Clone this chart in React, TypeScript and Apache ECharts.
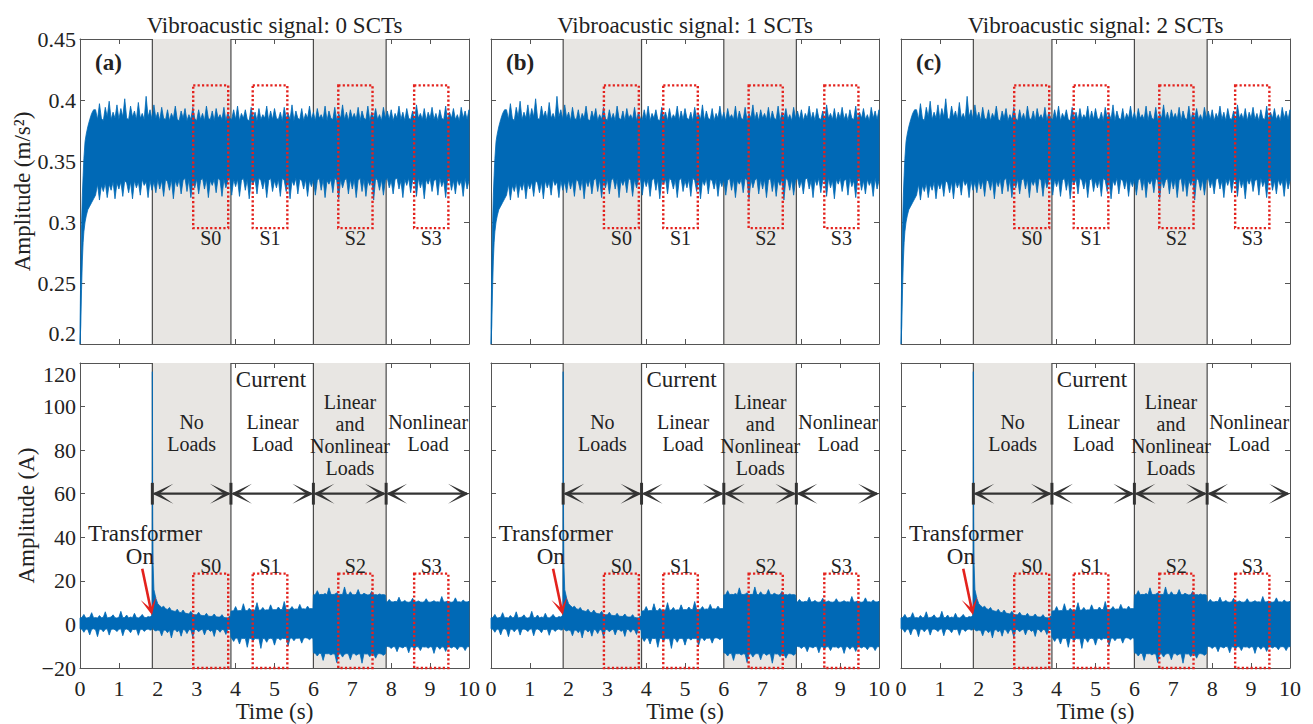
import React, { useEffect, useRef } from 'react';
import * as echarts from 'echarts';

// ---------------- data ----------------
const panelTitles = ['Vibroacustic signal: 0 SCTs', 'Vibroacustic signal: 1 SCTs', 'Vibroacustic signal: 2 SCTs'];
const panelLetters = ['(a)', '(b)', '(c)'];

// vibroacoustic amplitude envelope (m/s^2)
const vibTime = [0, 0.02, 0.04, 0.06, 0.08, 0.1, 0.13, 0.16, 0.2, 0.25, 0.3, 0.35,
  0.4, 0.45, 0.5, 0.55, 0.6, 0.65, 0.7, 0.75, 0.8, 0.85, 0.9, 0.95,
  1.0, 1.05, 1.1, 1.15, 1.2, 1.25, 1.3, 1.35, 1.4, 1.45, 1.5, 1.55, 1.6, 1.65, 1.7, 1.75, 1.8, 1.85, 1.9, 1.95,
  2.0, 2.05, 2.1, 2.15, 2.2, 2.25, 2.3, 2.35, 2.4, 2.45, 2.5, 2.55, 2.6, 2.65, 2.7, 2.75, 2.8, 2.85, 2.9, 2.95,
  3.0, 3.05, 3.1, 3.15, 3.2, 3.25, 3.3, 3.35, 3.4, 3.45, 3.5, 3.55, 3.6, 3.65, 3.7, 3.75, 3.8, 3.85, 3.9, 3.95,
  4.0, 4.05, 4.1, 4.15, 4.2, 4.25, 4.3, 4.35, 4.4, 4.45, 4.5, 4.55, 4.6, 4.65, 4.7, 4.75, 4.8, 4.85, 4.9, 4.95,
  5.0, 5.05, 5.1, 5.15, 5.2, 5.25, 5.3, 5.35, 5.4, 5.45, 5.5, 5.55, 5.6, 5.65, 5.7, 5.75, 5.8, 5.85, 5.9, 5.95,
  6.0, 6.05, 6.1, 6.15, 6.2, 6.25, 6.3, 6.35, 6.4, 6.45, 6.5, 6.55, 6.6, 6.65, 6.7, 6.75, 6.8, 6.85, 6.9, 6.95,
  7.0, 7.05, 7.1, 7.15, 7.2, 7.25, 7.3, 7.35, 7.4, 7.45, 7.5, 7.55, 7.6, 7.65, 7.7, 7.75, 7.8, 7.85, 7.9, 7.95,
  8.0, 8.05, 8.1, 8.15, 8.2, 8.25, 8.3, 8.35, 8.4, 8.45, 8.5, 8.55, 8.6, 8.65, 8.7, 8.75, 8.8, 8.85, 8.9, 8.95,
  9.0, 9.05, 9.1, 9.15, 9.2, 9.25, 9.3, 9.35, 9.4, 9.45, 9.5, 9.55, 9.6, 9.65, 9.7, 9.75, 9.8, 9.85, 9.9, 9.95,
  10.0];
const vibUpper = [0.212, 0.262, 0.298, 0.322, 0.338, 0.352, 0.366, 0.372, 0.378, 0.384, 0.389, 0.392,
  0.392, 0.384, 0.397, 0.385, 0.383, 0.394, 0.386, 0.399, 0.384, 0.390, 0.385, 0.396,
  0.384, 0.393, 0.386, 0.401, 0.385, 0.384, 0.395, 0.386, 0.391, 0.384, 0.398, 0.385, 0.389, 0.384, 0.403, 0.386, 0.392, 0.384, 0.396, 0.385,
  0.390, 0.383, 0.394, 0.385, 0.384, 0.392, 0.383, 0.389, 0.385, 0.395, 0.384, 0.383, 0.391, 0.385, 0.393, 0.383, 0.388, 0.384, 0.394, 0.385,
  0.383, 0.392, 0.384, 0.389, 0.383, 0.395, 0.385, 0.384, 0.391, 0.383, 0.393, 0.385, 0.388, 0.384, 0.394, 0.383, 0.390, 0.385, 0.384, 0.392,
  0.384, 0.395, 0.383, 0.389, 0.385, 0.392, 0.384, 0.383, 0.394, 0.385, 0.390, 0.383, 0.393, 0.384, 0.388, 0.385, 0.395, 0.383, 0.391, 0.384,
  0.393, 0.385, 0.384, 0.390, 0.383, 0.394, 0.385, 0.389, 0.384, 0.396, 0.383, 0.391, 0.385, 0.384, 0.393, 0.383, 0.389, 0.385, 0.395, 0.384,
  0.390, 0.383, 0.393, 0.385, 0.388, 0.384, 0.395, 0.383, 0.391, 0.385, 0.384, 0.394, 0.383, 0.389, 0.385, 0.396, 0.384, 0.390, 0.383, 0.392,
  0.385, 0.389, 0.384, 0.394, 0.383, 0.391, 0.385, 0.384, 0.395, 0.383, 0.390, 0.385, 0.393, 0.384, 0.388, 0.383, 0.394, 0.385, 0.391, 0.384,
  0.392, 0.383, 0.389, 0.385, 0.395, 0.384, 0.390, 0.383, 0.393, 0.385, 0.384, 0.391, 0.383, 0.396, 0.385, 0.389, 0.384, 0.393, 0.383, 0.390,
  0.385, 0.394, 0.384, 0.389, 0.383, 0.392, 0.385, 0.384, 0.395, 0.383, 0.390, 0.385, 0.393, 0.384, 0.388, 0.383, 0.394, 0.385, 0.391, 0.384,
  0.392];
const vibLower = [0.200, 0.215, 0.245, 0.268, 0.283, 0.292, 0.300, 0.305, 0.310, 0.313, 0.316, 0.319,
  0.322, 0.331, 0.318, 0.330, 0.325, 0.332, 0.320, 0.331, 0.326, 0.333, 0.319, 0.332,
  0.327, 0.333, 0.321, 0.334, 0.332, 0.324, 0.333, 0.319, 0.334, 0.328, 0.333, 0.322, 0.335, 0.330, 0.333, 0.320, 0.334, 0.326, 0.333, 0.324,
  0.335, 0.327, 0.334, 0.321, 0.335, 0.333, 0.326, 0.335, 0.319, 0.334, 0.329, 0.335, 0.323, 0.334, 0.336, 0.325, 0.335, 0.320, 0.334, 0.328,
  0.335, 0.323, 0.334, 0.336, 0.327, 0.335, 0.320, 0.334, 0.330, 0.335, 0.324, 0.336, 0.334, 0.321, 0.335, 0.328, 0.334, 0.336, 0.322, 0.335,
  0.329, 0.335, 0.321, 0.334, 0.336, 0.326, 0.335, 0.319, 0.334, 0.331, 0.335, 0.323, 0.336, 0.334, 0.327, 0.335, 0.320, 0.334, 0.336, 0.325,
  0.334, 0.328, 0.335, 0.321, 0.336, 0.334, 0.325, 0.335, 0.319, 0.334, 0.330, 0.336, 0.323, 0.335, 0.334, 0.327, 0.335, 0.321, 0.334, 0.329,
  0.335, 0.322, 0.334, 0.336, 0.326, 0.335, 0.320, 0.334, 0.331, 0.335, 0.324, 0.336, 0.334, 0.319, 0.335, 0.328, 0.334, 0.336, 0.323, 0.335,
  0.327, 0.335, 0.320, 0.334, 0.336, 0.325, 0.335, 0.321, 0.334, 0.330, 0.335, 0.318, 0.336, 0.334, 0.326, 0.335, 0.322, 0.334, 0.336, 0.328,
  0.334, 0.323, 0.335, 0.336, 0.327, 0.334, 0.320, 0.335, 0.330, 0.336, 0.324, 0.334, 0.335, 0.321, 0.336, 0.328, 0.334, 0.319, 0.335, 0.331,
  0.336, 0.325, 0.334, 0.335, 0.322, 0.336, 0.329, 0.334, 0.320, 0.335, 0.336, 0.326, 0.334, 0.323, 0.335, 0.330, 0.334, 0.321, 0.336, 0.327,
  0.334];

// current amplitude envelope (A)
const curTime = [
  0, 0.05, 0.1, 0.15, 0.2, 0.25, 0.3, 0.35, 0.4, 0.45, 0.5, 0.55, 0.6, 0.65, 0.7, 0.75, 0.8, 0.85, 0.9, 0.95,
  1.0, 1.05, 1.1, 1.15, 1.2, 1.25, 1.3, 1.35, 1.4, 1.45, 1.5, 1.55, 1.6, 1.65, 1.7, 1.75, 1.8,
  1.84, 1.855, 1.86, 1.865, 1.87, 1.88, 1.9, 1.95, 2.0,
  2.05, 2.1, 2.15, 2.2, 2.25, 2.3, 2.35, 2.4, 2.45, 2.5, 2.55, 2.6, 2.65, 2.7, 2.75, 2.8, 2.85, 2.9, 2.95,
  3.0, 3.05, 3.1, 3.15, 3.2, 3.25, 3.3, 3.35, 3.4, 3.45, 3.5, 3.55, 3.6, 3.65, 3.7, 3.75, 3.8, 3.85,
  3.87,
  3.88, 3.9, 3.95, 4.0, 4.05, 4.1, 4.15, 4.2, 4.25, 4.3, 4.35,
  4.4, 4.45, 4.5, 4.55, 4.6, 4.65, 4.7, 4.75, 4.8, 4.85,
  4.9, 4.95, 5.0, 5.05, 5.1, 5.15, 5.2, 5.25, 5.3, 5.35,
  5.4, 5.45, 5.5, 5.55, 5.6, 5.65, 5.7, 5.75, 5.8, 5.85,
  5.9, 5.95, 5.99,
  6.0, 6.05, 6.1, 6.15, 6.2, 6.25, 6.3, 6.35, 6.4, 6.45,
  6.5, 6.55, 6.6, 6.65, 6.7, 6.75, 6.8, 6.85, 6.9, 6.95,
  7.0, 7.05, 7.1, 7.15, 7.2, 7.25, 7.3, 7.35, 7.4, 7.45,
  7.5, 7.55, 7.6, 7.65, 7.7, 7.75, 7.8, 7.85,
  7.87,
  7.9, 7.95, 8.0, 8.05, 8.1, 8.15, 8.2, 8.25, 8.3, 8.35,
  8.4, 8.45, 8.5, 8.55, 8.6, 8.65, 8.7, 8.75, 8.8, 8.85,
  8.9, 8.95, 9.0, 9.05, 9.1, 9.15, 9.2, 9.25, 9.3, 9.35,
  9.4, 9.45, 9.5, 9.55, 9.6, 9.65, 9.7, 9.75, 9.8, 9.85,
  9.9, 9.95, 10.0];
const curUpper = [
  3.0, 3.2, 4.6, 2.9, 3.1, 3.3, 5.4, 3.0, 3.2, 2.9, 4.1, 3.1, 3.3, 5.8, 3.0, 3.2, 3.4, 4.4, 3.1, 2.9,
  3.3, 6.0, 3.1, 3.2, 4.3, 3.0, 3.4, 3.1, 5.1, 3.2, 3.0, 3.5, 4.6, 3.3, 3.1, 3.6, 3.4,
  4.0, 6.0, 116, 80, 48, 27, 16, 12, 9.5,
  8.6, 7.8, 8.4, 7.2, 6.9, 7.8, 6.4, 6.2, 5.9, 7.0, 5.6, 5.4, 6.6, 5.2, 5.0, 4.8, 6.0, 4.6, 4.5,
  4.4, 5.6, 4.2, 4.1, 4.0, 5.1, 3.8, 3.7, 3.7, 4.8, 3.5, 3.4, 3.4, 4.5, 3.2, 3.1, 3.0, 3.9,
  2.8,
  6.0, 6.2, 6.3, 8.2, 6.2, 6.4, 6.3, 9.5, 6.4, 6.3, 7.4,
  6.5, 6.4, 6.6, 10.0, 6.5, 6.6, 7.8, 6.5, 6.7, 6.6,
  9.0, 6.7, 6.8, 6.7, 8.0, 6.8, 6.9, 10.5, 6.8, 6.9,
  7.0, 8.2, 6.9, 7.1, 7.0, 9.2, 7.1, 7.2, 7.0, 8.4,
  7.2, 7.3, 7.2,
  13.5, 13.7, 15.5, 13.6, 13.8, 13.7, 14.2, 13.6, 16.8, 13.8,
  13.7, 13.9, 14.5, 13.6, 13.8, 13.7, 17.2, 13.8, 13.6, 15.0,
  13.7, 13.6, 13.8, 16.0, 13.7, 13.6, 14.3, 13.8, 13.5, 13.7,
  15.2, 13.6, 13.7, 13.5, 14.0, 13.6, 13.7, 13.5,
  10.2,
  10.3, 11.5, 10.4, 10.3, 10.6, 10.4, 12.5, 10.3, 10.4, 11.0,
  10.3, 10.2, 10.4, 12.0, 10.3, 10.4, 10.8, 10.3, 10.2, 10.4,
  11.8, 10.3, 10.2, 10.4, 10.9, 10.3, 10.4, 10.2, 12.8, 10.3,
  10.4, 10.7, 10.3, 10.2, 10.4, 12.2, 10.3, 10.4, 10.2, 11.2,
  10.4, 10.3, 10.6];
const curLower = [
  -2.0, -2.2, -3.6, -2.1, -2.3, -4.8, -2.2, -2.0, -2.4, -5.6, -2.1, -2.3, -3.4, -2.2, -2.0, -4.9, -2.3, -2.1, -2.4, -3.3,
  -2.2, -2.0, -5.2, -2.3, -2.1, -2.5, -3.8, -2.2, -2.4, -2.1, -5.0, -2.3, -2.2, -3.2, -2.4, -2.1, -2.6,
  -2.5, -2.0, -1.0, 0.0, -1.5, -2.0, -2.5, -3.0, -2.6,
  -2.8, -5.2, -2.6, -2.7, -3.8, -2.5, -6.2, -2.6, -2.4, -3.5, -2.5, -5.4, -2.3, -2.6, -4.2, -2.4, -2.5, -5.8, -2.3,
  -2.4, -3.4, -2.5, -2.2, -4.8, -2.4, -2.3, -3.2, -2.5, -5.5, -2.2, -2.4, -3.6, -2.3, -2.5, -4.6, -2.2, -2.4,
  -2.5,
  -6.0, -6.3, -7.8, -6.2, -6.4, -9.0, -6.3, -6.5, -6.4, -10.5, -6.3,
  -6.5, -7.6, -6.4, -6.6, -6.5, -11.0, -6.4, -6.6, -8.2, -6.5,
  -6.4, -6.6, -9.5, -6.5, -6.3, -7.2, -6.4, -6.5, -6.3, -9.8,
  -6.4, -6.2, -7.5, -6.3, -6.4, -6.2, -8.6, -6.3, -6.1, -6.3,
  -7.0, -6.2, -6.4,
  -13.0, -13.3, -14.5, -13.2, -13.4, -16.5, -13.3, -13.5, -13.4, -14.0,
  -13.5, -13.6, -17.5, -13.4, -13.5, -15.0, -13.6, -13.4, -13.5, -16.2,
  -13.5, -13.4, -14.2, -13.6, -13.5, -17.8, -13.4, -13.6, -13.5, -14.8,
  -13.4, -13.6, -15.5, -13.5, -13.4, -13.6, -14.2, -13.5,
  -10.0,
  -10.1, -10.3, -11.0, -10.2, -10.3, -12.5, -10.2, -10.4, -10.8, -10.1,
  -10.3, -13.0, -10.2, -10.4, -11.2, -10.2, -10.3, -12.0, -10.2, -10.4,
  -10.3, -10.9, -10.2, -10.4, -13.3, -10.3, -10.2, -11.4, -10.3, -10.4,
  -12.4, -10.2, -10.3, -10.8, -10.2, -10.4, -11.6, -10.3, -10.2, -10.4,
  -12.0, -10.3, -10.2];

// operating stages (s)
const stageBounds = [1.86, 3.88, 6.0, 7.87, 10];
const shadedStart = [1.86, 6.0];
const shadedEnd = [3.88, 7.87];
const stageLabels = [['No', 'Loads'], ['Linear', 'Load'], ['Linear', 'and', 'Nonlinear', 'Loads'], ['Nonlinear', 'Load']];

// analysis windows
const windowNames = ['S0', 'S1', 'S2', 'S3'];
const windowStart = [2.91, 4.44, 6.64, 8.59];
const windowEnd = [3.81, 5.33, 7.52, 9.47];
const vibWindowRange = [0.295, 0.412];
const curWindowRange = [-20, 23.3];

// ---------------- layout / style ----------------
const FONT = '"Liberation Serif", "Times New Roman", serif';
const BLUE = '#0069b6';
const SHADE = '#e8e6e3';
const RED = '#e3221d';
const DARK = '#333333';
const AXIS = '#555555';
const TEXT = '#222222';

const colLeft = [80, 491, 901];
const colWidth = [389, 388, 389];
const rowTop = [39, 363];
const rowHeight = [305, 306];

const layout = {
  stageLabelT: [2.87, 4.95, 6.94, 8.95],
  stageLabelV: [92.9, 92.9, 102.2, 92.9],
  currentPos: [4.91, 112.5],
  transformerPos: [1.67, 41.6],
  onPos: [1.54, 31.1],
  redArrowFrom: [1.60, 25.6],
  redArrowTo: [1.85, 4.3],
  arrowY: 60,
  barHalf: 5,
  vibLabelV: 0.287,
  curLabelV: 27.0,
};

const font = (size: number, bold = false) => `${bold ? 'bold ' : ''}${size}px ${FONT}`;

function dart(tip: number[], dx: number, dy: number, L: number, h: number, n: number) {
  const bx = -dx, by = -dy;
  const px = -dy, py = dx;
  return [
    [tip[0], tip[1]],
    [tip[0] + bx * L + px * h, tip[1] + by * L + py * h],
    [tip[0] + bx * n, tip[1] + by * n],
    [tip[0] + bx * L - px * h, tip[1] + by * L - py * h],
  ];
}

function textEl(x: number, y: number, text: string, size: number, align = 'center', bold = false) {
  return {
    type: 'text', x, y,
    style: { text, font: font(size, bold), fill: TEXT, align, verticalAlign: 'middle', textAlign: align, textVerticalAlign: 'middle' },
  };
}

function buildOption() {
  const grid: any[] = [];
  const xAxis: any[] = [];
  const yAxis: any[] = [];
  const series: any[] = [];
  const graphic: any[] = [];

  for (let row = 0; row < 2; row++) {
    for (let col = 0; col < 3; col++) {
      const g = row * 3 + col;
      grid.push({ left: colLeft[col], top: rowTop[row], width: colWidth[col], height: rowHeight[row] });
      const yMin = row === 0 ? 0.2 : -20;
      const yMax = row === 0 ? 0.45 : 120;
      const yInt = row === 0 ? 0.05 : 20;
      const common = {
        type: 'value',
        gridIndex: g,
        axisLine: { show: true, onZero: false, lineStyle: { color: AXIS, width: 1 } },
        axisTick: { show: true, inside: true, length: 5, lineStyle: { color: AXIS, width: 1 } },
        splitLine: { show: false },
      };
      xAxis.push({
        ...common, min: 0, max: 10, interval: 1, position: 'bottom',
        axisLabel: { show: row === 1, color: TEXT, fontFamily: FONT, fontSize: 22, margin: 9, showMinLabel: true, showMaxLabel: true },
        name: row === 1 ? 'Time (s)' : '', nameLocation: 'middle', nameGap: 32,
        nameTextStyle: { color: TEXT, fontFamily: FONT, fontSize: 23 },
      });
      xAxis.push({ ...common, min: 0, max: 10, interval: 1, position: 'top', axisLabel: { show: false } });
      yAxis.push({
        ...common, min: yMin, max: yMax, interval: yInt, position: 'left',
        axisLabel: {
          show: col === 0, color: TEXT, fontFamily: FONT, fontSize: 22, margin: 4, showMinLabel: true, showMaxLabel: true,
          verticalAlignMinLabel: row === 0 ? 'bottom' : undefined,
          verticalAlignMaxLabel: row === 1 ? 'top' : undefined,
          formatter: (v: number) => (row === 0 ? String(Number(v.toFixed(2))) : (v < 0 ? '\u2212' + String(-v) : String(v))),
        },
        name: col === 0 ? (row === 0 ? 'Amplitude (m/s\u00b2)' : 'Amplitude (A)') : '',
        nameLocation: 'middle', nameGap: row === 0 ? 46 : 31,
        nameTextStyle: { color: TEXT, fontFamily: FONT, fontSize: 23 },
      });
      yAxis.push({ ...common, min: yMin, max: yMax, interval: yInt, position: 'right', axisLabel: { show: false } });

      const xi = 2 * g, yi = 2 * g;
      // shading + stage boundary lines
      series.push({
        type: 'custom', xAxisIndex: xi, yAxisIndex: yi, z: 1, silent: true, data: [[0, yMin]],
        renderItem: (_p: any, api: any) => {
          const children: any[] = [];
          shadedStart.forEach((a, i) => {
            const p1 = api.coord([a, yMax]);
            const p2 = api.coord([shadedEnd[i], yMin]);
            children.push({ type: 'rect', shape: { x: p1[0], y: p1[1], width: p2[0] - p1[0], height: p2[1] - p1[1] }, style: { fill: SHADE } });
          });
          stageBounds.slice(0, 4).forEach((t) => {
            const a = api.coord([t, yMin]);
            const b = api.coord([t, yMax]);
            children.push({ type: 'line', shape: { x1: a[0], y1: a[1], x2: b[0], y2: b[1] }, style: { stroke: '#4a4a4a', lineWidth: 1.2 } });
          });
          return { type: 'group', children };
        },
      });
      // signal band
      const tArr = row === 0 ? vibTime : curTime;
      const hiArr = row === 0 ? vibUpper : curUpper;
      const loArr = row === 0 ? vibLower : curLower;
      series.push({
        type: 'custom', xAxisIndex: xi, yAxisIndex: yi, z: 3, silent: true, data: [[0, yMin]],
        renderItem: (_p: any, api: any) => {
          const pts: number[][] = [];
          for (let i = 0; i < tArr.length; i++) pts.push(api.coord([tArr[i], hiArr[i]]));
          for (let i = tArr.length - 1; i >= 0; i--) pts.push(api.coord([tArr[i], loArr[i]]));
          return { type: 'polygon', shape: { points: pts }, style: { fill: BLUE, stroke: BLUE, lineWidth: 0.8, lineJoin: 'round' } };
        },
      });
      // analysis windows
      const wr = row === 0 ? vibWindowRange : curWindowRange;
      const labelV = row === 0 ? layout.vibLabelV : layout.curLabelV;
      series.push({
        type: 'custom', xAxisIndex: xi, yAxisIndex: yi, z: 5, silent: true, data: [[0, yMin]],
        renderItem: (_p: any, api: any) => {
          const children: any[] = [];
          windowNames.forEach((name, i) => {
            const p1 = api.coord([windowStart[i], wr[1]]);
            const p2 = api.coord([windowEnd[i], wr[0]]);
            children.push({
              type: 'rect', shape: { x: p1[0], y: p1[1], width: p2[0] - p1[0], height: p2[1] - p1[1] },
              style: { fill: 'none', stroke: RED, lineWidth: 2.4, lineDash: [2.2, 2.2] },
            });
            const c = api.coord([(windowStart[i] + windowEnd[i]) / 2, labelV]);
            children.push(textEl(c[0], c[1], name, 20));
          });
          return { type: 'group', children };
        },
      });
      if (row === 1) {
        series.push({
          type: 'custom', xAxisIndex: xi, yAxisIndex: yi, z: 6, silent: true, data: [[0, yMin]],
          renderItem: (_p: any, api: any) => {
            const children: any[] = [];
            for (let i = 0; i < 4; i++) {
              const pa = api.coord([stageBounds[i], layout.arrowY]);
              const pb = api.coord([stageBounds[i + 1], layout.arrowY]);
              children.push({ type: 'line', shape: { x1: pa[0] + 2, y1: pa[1], x2: pb[0] - 2, y2: pb[1] }, style: { stroke: DARK, lineWidth: 2.2 } });
              children.push({ type: 'polygon', shape: { points: dart(pa, -1, 0, 21, 10, 7) }, style: { fill: DARK } });
              children.push({ type: 'polygon', shape: { points: dart(pb, 1, 0, 21, 10, 7) }, style: { fill: DARK } });
              const b1 = api.coord([stageBounds[i], layout.arrowY - layout.barHalf]);
              const b2 = api.coord([stageBounds[i], layout.arrowY + layout.barHalf]);
              children.push({ type: 'line', shape: { x1: b1[0], y1: b1[1], x2: b2[0], y2: b2[1] }, style: { stroke: DARK, lineWidth: 3 } });
              const lp = api.coord([layout.stageLabelT[i], layout.stageLabelV[i]]);
              stageLabels[i].forEach((ln, k) => children.push(textEl(lp[0], lp[1] + k * 22, ln, 20)));
            }
            const cp = api.coord(layout.currentPos);
            children.push(textEl(cp[0], cp[1], 'Current', 23));
            const tp = api.coord(layout.transformerPos);
            children.push(textEl(tp[0], tp[1], 'Transformer', 23));
            const op = api.coord(layout.onPos);
            children.push(textEl(op[0], op[1], 'On', 23));
            const r0 = api.coord(layout.redArrowFrom);
            const r1 = api.coord(layout.redArrowTo);
            const len = Math.hypot(r1[0] - r0[0], r1[1] - r0[1]);
            const dx = (r1[0] - r0[0]) / len, dy = (r1[1] - r0[1]) / len;
            children.push({ type: 'line', shape: { x1: r0[0], y1: r0[1], x2: r1[0] - dx * 6, y2: r1[1] - dy * 6 }, style: { stroke: RED, lineWidth: 2.6 } });
            children.push({ type: 'polygon', shape: { points: dart(r1, dx, dy, 17, 8, 7) }, style: { fill: RED } });
            return { type: 'group', children };
          },
        });
      }
    }
  }

  for (let col = 0; col < 3; col++) {
    graphic.push(textEl(colLeft[col] + colWidth[col] / 2, 25, panelTitles[col], 23));
    graphic.push(textEl(colLeft[col] + 15, 62, panelLetters[col], 23, 'left', true));
  }

  return {
    animation: false,
    backgroundColor: '#ffffff',
    textStyle: { fontFamily: FONT },
    grid, xAxis, yAxis, series, graphic,
  };
}

export default function App() {
  const ref = useRef<HTMLDivElement>(null);
  useEffect(() => {
    const chart = echarts.init(ref.current!, undefined, { renderer: 'svg' });
    chart.setOption(buildOption() as any);
    return () => chart.dispose();
  }, []);
  return <div ref={ref} style={{ position: 'fixed', left: 0, top: 0, width: 1313, height: 724, background: '#fff' }} />;
}
